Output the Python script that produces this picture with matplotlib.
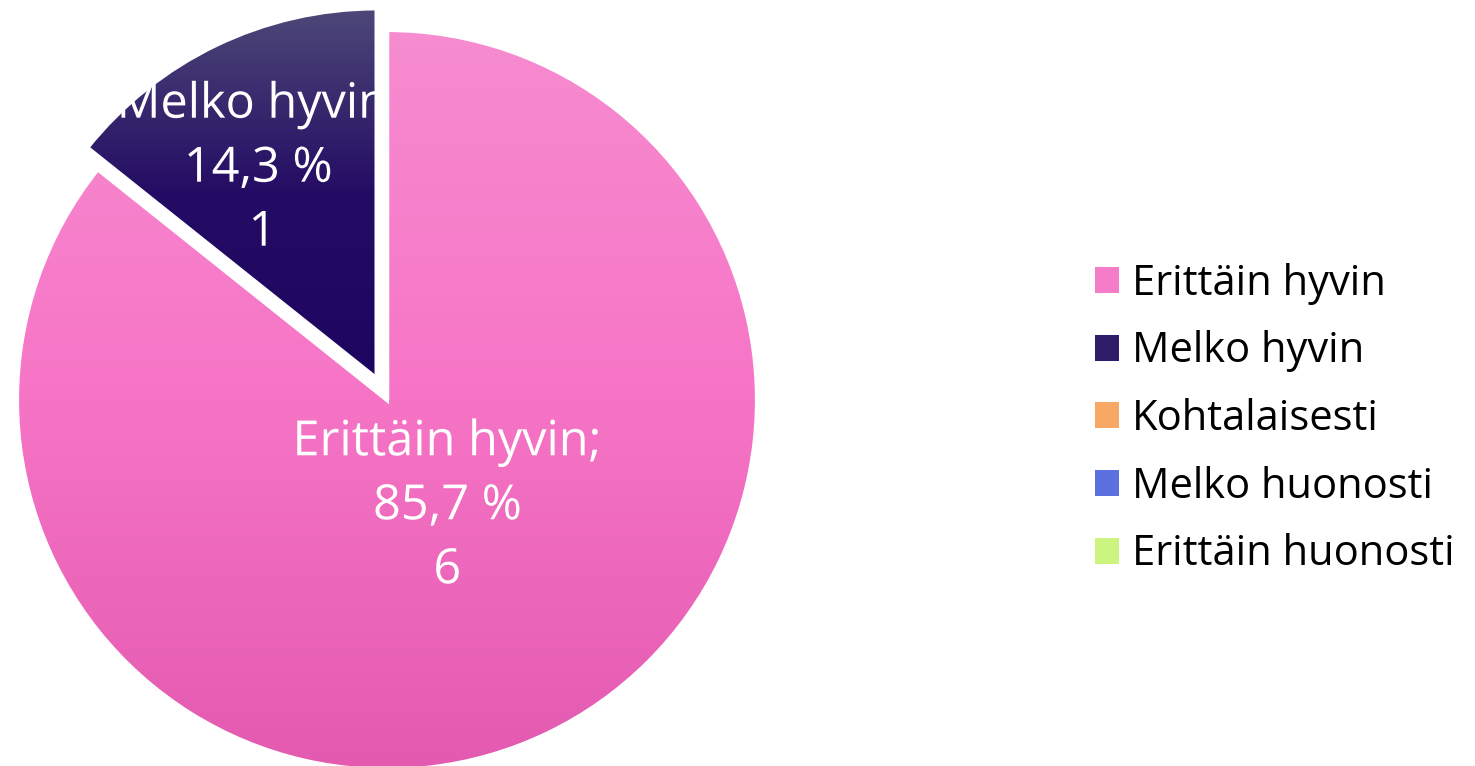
import numpy as np
import matplotlib.pyplot as plt
from matplotlib.colors import LinearSegmentedColormap
from matplotlib.patches import Patch, PathPatch
from matplotlib.textpath import TextPath
from matplotlib.font_manager import FontProperties
from matplotlib.transforms import Affine2D

categories = ['Erittäin hyvin', 'Melko hyvin', 'Kohtalaisesti', 'Melko huonosti', 'Erittäin huonosti']
counts = [6, 1, 0, 0, 0]
percent_labels = ['85,7 %', '14,3 %', '0,0 %', '0,0 %', '0,0 %']
# gradient colours per slice (top, middle, bottom)
top_colors = ['#F78CD0', '#4D4878', '#FDB77C', '#7387E6', '#DCFF92']
mid_colors = ['#F674C6', '#240C64', '#F6A560', '#5A6EDE', '#C9F47C']
bottom_colors = ['#E35AB0', '#1E0560', '#EE9444', '#4055D6', '#B6E768']
legend_colors = ['#F47CC8', '#2E1C6A', '#F7A865', '#5C70DF', '#CCF57F']

plt.rcParams['font.family'] = ['Open Sans', 'DejaVu Sans']

fig = plt.figure(figsize=(14.75, 7.66), dpi=100)
ax = fig.add_axes([0, 0, 1, 1])

R = 370
cx, cy = 387, 766 - 400
wedges, _ = ax.pie(counts, startangle=90, counterclock=False, radius=R,
                   center=(cx, cy), explode=[0, 24, 0, 0, 0],
                   wedgeprops=dict(edgecolor='white', linewidth=3, facecolor='none', zorder=3),
                   frame=True)

# gradient fill clipped to each wedge
grad = np.linspace(0, 1, 256).reshape(-1, 1)
for w, c, top, mid, bot in zip(wedges, counts, top_colors, mid_colors, bottom_colors):
    if c == 0:
        continue
    ext = w.get_path().get_extents()
    cmap = LinearSegmentedColormap.from_list('g', [(0, bot), (0.5, mid), (1, top)])
    im = ax.imshow(grad, cmap=cmap, origin='lower', aspect='auto',
                   extent=[ext.x0, ext.x1, ext.y0, ext.y1], zorder=2)
    im.set_clip_path(w)

# data labels (Excel puts them a bit off the bisector)
# drawn as text paths so they can be clipped to their slice
fp = FontProperties(family='Open Sans')
size_px = 35 * 100 / 72
pitch = 64
label_r = [0.32, 0.66]
label_turn = [5, 3]
for i, w in enumerate(wedges):
    if counts[i] == 0:
        continue
    ang = np.deg2rad((w.theta1 + w.theta2) / 2 + label_turn[i])
    x0, y0 = w.center
    r = label_r[i] * R
    lx, ly = x0 + r * np.cos(ang), y0 + r * np.sin(ang)
    lines = [f'{categories[i]};', percent_labels[i], str(counts[i])]
    for k, s in enumerate(lines):
        tp = TextPath((0, 0), s, size=size_px, prop=fp)
        e = tp.get_extents()
        base = ly + (1 - k) * pitch - 0.36 * size_px
        tr = Affine2D().translate(lx - (e.x0 + e.x1) / 2, base) + ax.transData
        p = PathPatch(tp, facecolor='white', edgecolor='none', transform=tr, zorder=2.5)
        ax.add_patch(p)
        p.set_clip_path(w)

handles = [Patch(facecolor=c, edgecolor='none') for c in legend_colors]
ax.legend(handles, categories, loc='center left', bbox_to_anchor=(1095 / 1475, 1 - 419 / 766),
          bbox_transform=fig.transFigure, frameon=False, fontsize=30,
          handlelength=0.58, handleheight=0.58, handletextpad=0.3, labelspacing=0.615,
          borderpad=0, borderaxespad=0)

ax.set_xlim(0, 1475)
ax.set_ylim(0, 766)
ax.axis('off')

fig.savefig('out.png', dpi=100)
